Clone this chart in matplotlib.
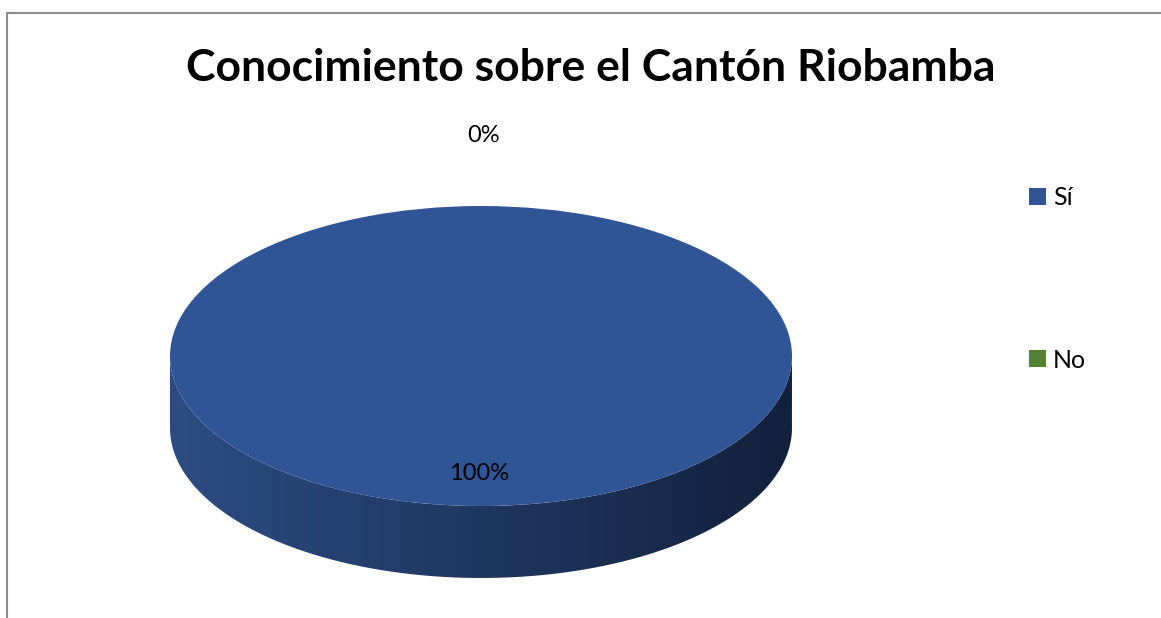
import numpy as np
import matplotlib.pyplot as plt
from matplotlib.path import Path
from matplotlib.patches import PathPatch

W, H = 1161, 618
categories = ['Sí', 'No']
values = [100, 0]
pct_labels = ['100%', '0%']
top_colors = ['#2F5597', '#548235']
side_left = [np.array([45, 76, 131]) / 255, np.array([84, 130, 53]) / 255]
side_right = [np.array([18, 33, 60]) / 255, np.array([40, 62, 25]) / 255]
title = 'Conocimiento sobre el Cantón Riobamba'

plt.rcParams['font.family'] = ['Lato', 'DejaVu Sans']

fig = plt.figure(figsize=(W / 100, H / 100), dpi=100)

# pie box in pixels: left, right, top, bottom of the whole disc incl. side
px_l, px_r, px_t, px_b = 170, 792, 206, 578
ry_px = 150.0
depth = (px_b - px_t - 2 * ry_px) / ry_px
ax = fig.add_axes([px_l / W, 1 - px_b / H, (px_r - px_l) / W, (px_b - px_t) / H])

wedges, _ = ax.pie(values, colors=top_colors, startangle=90, counterclock=False,
                   radius=1, center=(0, 0), wedgeprops=dict(linewidth=0))
ax.set_aspect('auto')
ax.set_xlim(-1, 1)
ax.set_ylim(-1 - depth, 1)
ax.axis('off')
for w in wedges:
    w.set_zorder(3)

# side walls, one per slice where it faces the viewer
total = sum(values)
ang = 90.0
for i, v in enumerate(values):
    a0 = ang - 360.0 * v / total
    a1 = ang
    ang = a0
    if v == 0:
        continue
    # visible part of the side: angles between 180 and 360 degrees
    t = np.radians(np.linspace(a0, a1, 720)) % (2 * np.pi)
    t = np.sort(t[(t >= np.pi) & (t <= 2 * np.pi)])
    if t.size < 2:
        continue
    xs = np.cos(t)
    ys = np.sin(t)
    verts = np.concatenate([np.c_[xs, ys], np.c_[xs[::-1], ys[::-1] - depth], [[xs[0], ys[0]]]])
    clip = PathPatch(Path(verts), facecolor='none', edgecolor='none', transform=ax.transData)
    ax.add_patch(clip)
    grad = np.linspace(0, 1, 256)
    img = side_left[i][None, :] * (1 - grad[:, None]) + side_right[i][None, :] * grad[:, None]
    im = ax.imshow(img[None, :, :], extent=(-1, 1, -1 - depth, 0), aspect='auto',
                   interpolation='bilinear', zorder=2)
    im.set_clip_path(clip)

# percentage labels
fig.text(479 / W, 1 - 473 / H, pct_labels[0], ha='center', va='center', fontsize=17)
fig.text(484 / W, 1 - 135 / H, pct_labels[1], ha='center', va='center', fontsize=17)

fig.text(591 / W, 1 - 68 / H, title, ha='center', va='center', fontsize=32, fontweight='bold')

leg = fig.legend(wedges, categories, loc='upper left', bbox_to_anchor=(1029 / W, 1 - 186 / H),
                 frameon=False, fontsize=18, handlelength=0.66, handleheight=0.66,
                 handletextpad=0.3, labelspacing=5.58, borderpad=0, borderaxespad=0)

# chart border (left and top visible)
fig.add_artist(plt.Line2D([7 / W, 7 / W, 1], [0, 1 - 13 / H, 1 - 13 / H],
                          color='#8c8c8c', linewidth=1.5))

fig.savefig('out.png', dpi=100)
